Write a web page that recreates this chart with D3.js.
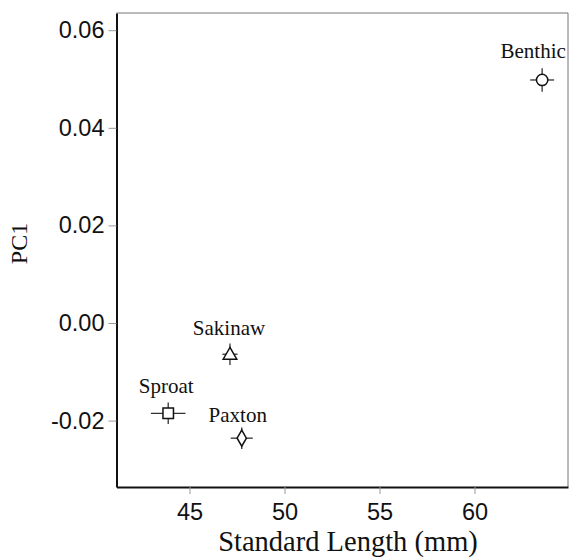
<!DOCTYPE html>
<html>
<head>
<meta charset="utf-8">
<script src="https://cdn.jsdelivr.net/npm/d3@7"></script>
<style>
  html, body { margin: 0; padding: 0; background: #fff; }
  svg { display: block; }
</style>
</head>
<body>
<svg id="chart" width="571" height="558"></svg>
<script>
// ---- data ----
const populations = ["Benthic", "Sakinaw", "Sproat", "Paxton"];
const standardLength = [63.56, 47.13, 43.88, 47.75];
const standardLengthErr = [0.63, 0.40, 0.91, 0.58];
const pc1 = [0.0498, -0.0064, -0.0185, -0.0236];
const pc1Err = [0.0024, 0.0022, 0.0022, 0.0022];
const markerShapes = ["circle", "triangle", "square", "diamond"];
const xTicks = [45, 50, 55, 60];
const yTicks = [0.06, 0.04, 0.02, 0.00, -0.02];

(function () {
// ---- layout ----
const mLeft = 116.5, mRight = 568, mTop = 13, mBottom = 487;
const svg = d3.select("#chart");
const serif = "'Liberation Serif', 'Times New Roman', serif";
const sans = "'Liberation Sans', Arial, sans-serif";

const x = d3.scaleLinear()
  .domain([45 - (189.5 - mLeft) / 19, 45 + (mRight - 189.5) / 19])
  .range([mLeft, mRight]);
const y = d3.scaleLinear()
  .domain([-(mBottom - 323) / 4880, (323 - mTop) / 4880])
  .range([mBottom, mTop]);

// frame: top and right lighter
svg.append("line").attr("x1", mLeft).attr("x2", mRight).attr("y1", mTop).attr("y2", mTop)
  .attr("stroke", "#777").attr("stroke-width", 1);
svg.append("line").attr("x1", mRight).attr("x2", mRight).attr("y1", mTop).attr("y2", mBottom)
  .attr("stroke", "#777").attr("stroke-width", 1);

// axes
const xAxis = d3.axisBottom(x).tickValues(xTicks).tickSize(7).tickSizeOuter(0).tickPadding(9)
  .tickFormat(d3.format("d"));
const gx = svg.append("g").attr("transform", `translate(0,${mBottom})`).call(xAxis);
gx.select(".domain").attr("stroke", "#111").attr("stroke-width", 2);
gx.selectAll(".tick line").attr("stroke", "#999").attr("stroke-width", 1);
gx.selectAll(".tick text").attr("font-family", sans)
  .attr("font-size", 23.5).attr("fill", "#111");

const yAxis = d3.axisLeft(y).tickValues(yTicks).tickSize(8).tickSizeOuter(0).tickPadding(4)
  .tickFormat(d3.format(".2f"));
const gy = svg.append("g").attr("transform", `translate(${mLeft},0)`).call(yAxis);
gy.select(".domain").attr("stroke", "#111").attr("stroke-width", 2);
gy.selectAll(".tick line").attr("stroke", "#999").attr("stroke-width", 1);
gy.selectAll(".tick text").attr("font-family", sans)
  .attr("font-size", 23.5).attr("fill", "#111")
  .text(d => d3.format(".2f")(d).replace("\u2212", "-"));

// axis titles
svg.append("text").attr("x", 348).attr("y", 551)
  .attr("text-anchor", "middle")
  .attr("font-family", serif)
  .attr("font-size", 28.5).attr("fill", "#111")
  .text("Standard Length (mm)");
svg.append("text")
  .attr("transform", "translate(27,243.5) rotate(-90)")
  .attr("text-anchor", "middle")
  .attr("font-family", serif)
  .attr("font-size", 24).attr("fill", "#111")
  .text("PC1");

// points
const pts = populations.map((p, i) => ({
  name: p, x: standardLength[i], xe: standardLengthErr[i],
  y: pc1[i], ye: pc1Err[i], shape: markerShapes[i]
}));

const labelOffset = { Benthic: [-9, -22], Sakinaw: [-1, -19], Sproat: [-2, -20], Paxton: [-4, -16] };
const symbolMap = {
  circle: d3.symbolCircle, triangle: d3.symbolTriangle,
  square: d3.symbolSquare, diamond: d3.symbolDiamond
};
const symbolSize = { circle: 100, triangle: 80, square: 110, diamond: 75 };

const g = svg.append("g");
pts.forEach(d => {
  const cx = x(d.x), cy = y(d.y);
  g.append("line").attr("x1", x(d.x - d.xe)).attr("x2", x(d.x + d.xe))
    .attr("y1", cy).attr("y2", cy).attr("stroke", "#333").attr("stroke-width", 1.3);
  g.append("line").attr("x1", cx).attr("x2", cx)
    .attr("y1", y(d.y - d.ye)).attr("y2", y(d.y + d.ye))
    .attr("stroke", "#333").attr("stroke-width", 1.3);
  const sym = d3.symbol().type(symbolMap[d.shape]).size(symbolSize[d.shape]);
  let tr = `translate(${cx},${cy})`;
  if (d.shape === "triangle") tr += " translate(0,1)";
  g.append("path").attr("d", sym()).attr("transform", tr)
    .attr("fill", "#fff").attr("stroke", "#111").attr("stroke-width", 1.5);
  const off = labelOffset[d.name];
  g.append("text").attr("x", cx + off[0]).attr("y", cy + off[1])
    .attr("text-anchor", "middle")
    .attr("font-family", serif)
    .attr("font-size", 21).attr("fill", "#111")
    .text(d.name);
});
})();
</script>
</body>
</html>
